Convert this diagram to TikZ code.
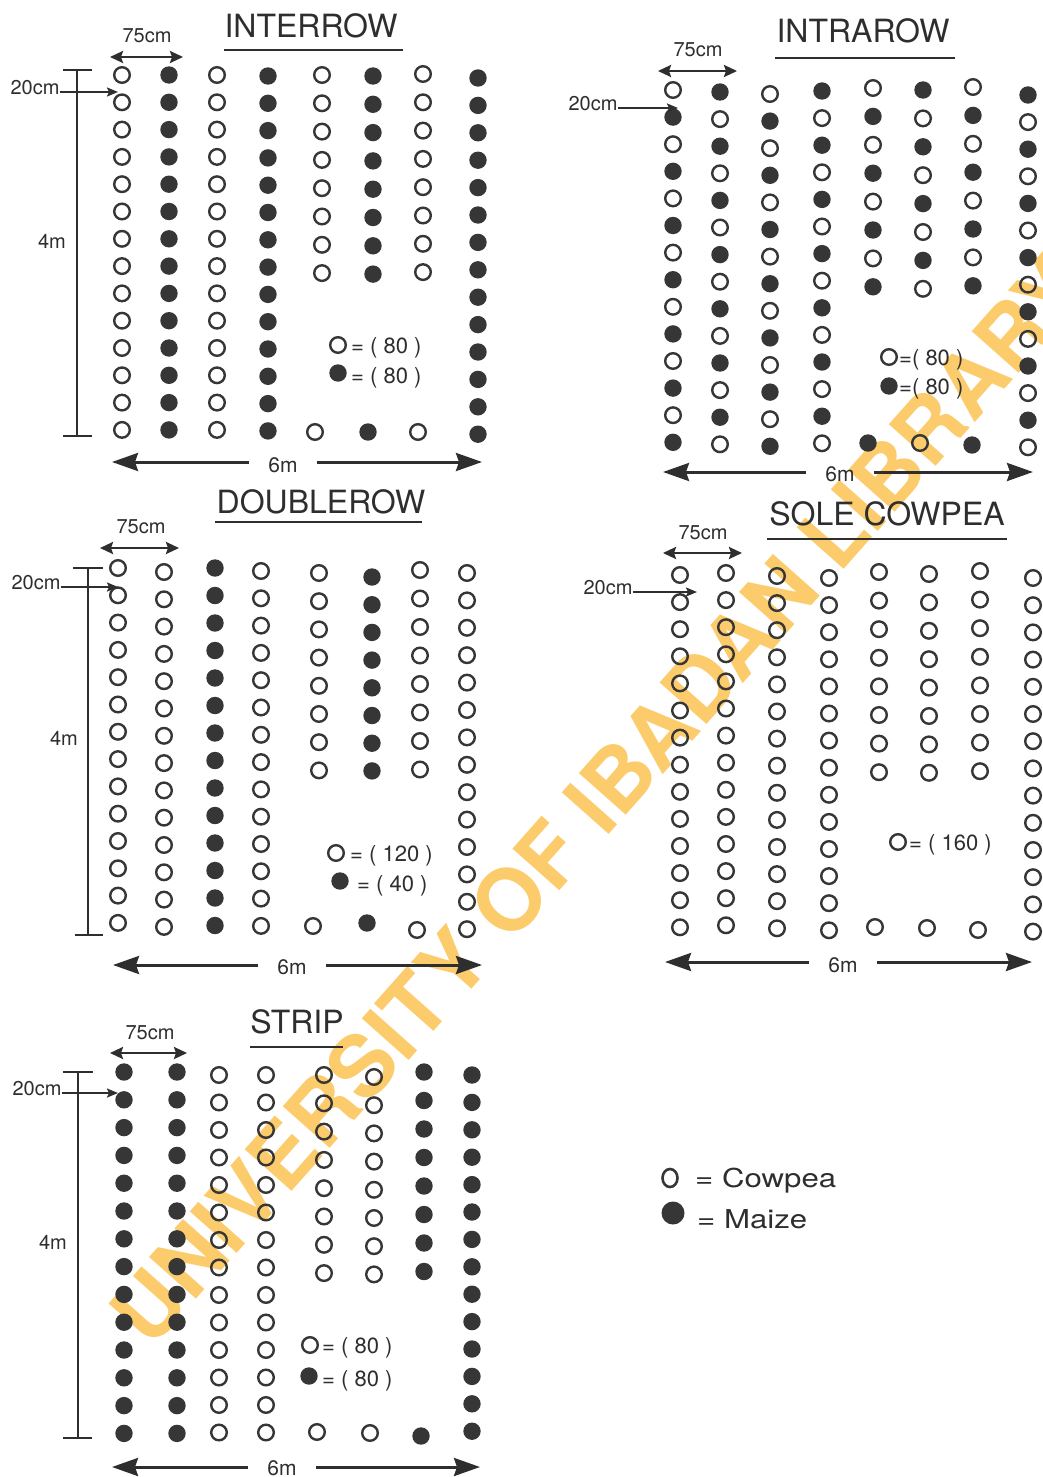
\documentclass[tikz,border=0pt]{standalone}
\usepackage{fontspec}
\setmainfont{TeX Gyre Heros}
\newfontfamily\legfont[FakeStretch=1.2]{TeX Gyre Heros}
\usetikzlibrary{arrows.meta,shapes.geometric}
\definecolor{ink}{HTML}{2E2E2E}
\definecolor{dotc}{HTML}{363636}
\definecolor{wm}{RGB}{252,204,108}
\tikzset{
 odot/.style={circle, draw=dotc, line width=2.4pt, inner sep=0pt, minimum size=15.6pt},
 fdot/.style={circle, fill=dotc, inner sep=0pt, minimum size=17.4pt},
 ttl/.style={font=\fontsize{32}{36}\selectfont, text=ink, inner sep=0pt},
 lab/.style={font=\fontsize{20}{24}\selectfont, text=ink, inner sep=0pt},
 sixlab/.style={font=\fontsize{21}{25}\selectfont, text=ink, inner ysep=0pt, inner xsep=19pt},
 legtxt/.style={font=\fontsize{22}{26}\selectfont, text=ink, inner sep=0pt, anchor=base west},
 uline/.style={draw=ink, line width=2.4pt},
 dimbar/.style={draw=ink, line width=2.6pt},
 bigarr/.style={draw=ink, line width=3pt, -{Stealth[length=26pt,width=18pt,inset=3pt]}},
 dimarr/.style={draw=ink, line width=2.4pt, {Stealth[length=13pt,width=12pt,inset=2pt]}-{Stealth[length=13pt,width=12pt,inset=2pt]}},
 ptarr/.style={draw=ink, line width=2pt, -{Stealth[length=11pt,width=9pt,inset=2pt]}},
}
% #1 panel, #2 column, #3 x, #4 first y, #5 step, #6 last index, #7 kind (0 open,1 filled,2 alt from open,3 alt from filled)
\newcommand\dotcol[7]{%
  \foreach \i in {0,...,#6}{%
    \pgfmathtruncatemacro\kd{(#7==2)*mod(\i,2)+(#7==3)*(1-mod(\i,2))+(#7<2)*#7}%
    \ifnum\kd=0
      \node[odot] (#1-#2-\i) at (#3,{#4+\i*#5}) {};
    \else
      \node[fdot] (#1-#2-\i) at (#3,{#4+\i*#5}) {};
    \fi
  }%
}
\begin{document}
\begin{tikzpicture}[x=1pt,y=-1pt]
\useasboundingbox[fill=white] (0,0) rectangle (1043,1477);

% watermark
\node[rotate=48.4, text=wm, font=\bfseries\fontsize{86}{90}\selectfont, inner sep=0pt] (wmark) at (598,800) {UNIVERSITY OF IBADAN LIBRARY};

% ================= INTERROW =================
\node[ttl] (A-title) at (311,26) {INTERROW};
\draw[uline] (224,50) -- (403,50);
\node[lab] (A-75) at (147,36) {75cm};
\coordinate (A-75L) at (110,57); \coordinate (A-75R) at (183,57);
\draw[dimarr] (A-75L) -- (A-75R);
\dotcol{A}{1}{122}{75}{27.3}{13}{0}
\dotcol{A}{2}{169}{75}{27.3}{13}{1}
\dotcol{A}{3}{217}{75}{27.3}{13}{0}
\dotcol{A}{4}{268}{76}{27.3}{13}{1}
\dotcol{A}{5}{322}{75}{28.3}{7}{0}
\dotcol{A}{6}{373}{76}{28.3}{7}{1}
\dotcol{A}{7}{423}{74}{28.3}{7}{0}
\dotcol{A}{8}{478}{78}{27.4}{13}{1}
\node[odot] (A-b1) at (315,432) {};
\node[fdot] (A-b2) at (368,432) {};
\node[odot] (A-b3) at (418,432) {};
\node[lab] (A-20) at (35,88) {20cm};
\coordinate (A-20t) at (118,92);
\draw[ptarr] (A-20.east |- A-20t) -- (A-20t);
\coordinate (A-4T) at (77,70); \coordinate (A-4B) at (77,436);
\draw[dimbar] (A-4T) -- (A-4B);
\draw[dimbar] ([xshift=-14pt]A-4T) -- ([xshift=15pt]A-4T);
\draw[dimbar] ([xshift=-14pt]A-4B) -- ([xshift=15pt]A-4B);
\node[lab] (A-4m) at (52,241) {4m};
\node[sixlab] (A-6m) at (283,465) {6m};
\coordinate (A-6L) at (112,462); \coordinate (A-6R) at (482,462);
\draw[bigarr] (A-6m.west |- A-6L) -- (A-6L);
\draw[bigarr] (A-6m.east |- A-6R) -- (A-6R);
\node[odot] (A-lo) at (338,345) {};
\node[legtxt] (A-lot) at (351,353) {= ( 80 )};
\node[fdot] (A-lf) at (338,373) {};
\node[legtxt] (A-lft) at (351,383) {= ( 80 )};

% ================= INTRAROW =================
\node[ttl] (B-title) at (863,31) {INTRAROW};
\draw[uline] (775,58) -- (955,58);
\node[lab] (B-75) at (698,50) {75cm};
\coordinate (B-75L) at (658,71); \coordinate (B-75R) at (737,71);
\draw[dimarr] (B-75L) -- (B-75R);
\dotcol{B}{1}{673}{90}{27.1}{13}{2}
\dotcol{B}{2}{720}{92}{27.1}{13}{3}
\dotcol{B}{3}{770}{94}{27.1}{13}{2}
\dotcol{B}{4}{822}{91}{27.1}{13}{3}
\dotcol{B}{5}{873}{88}{28.4}{7}{2}
\dotcol{B}{6}{923}{90}{28.4}{7}{3}
\dotcol{B}{7}{973}{87}{28.4}{7}{2}
\dotcol{B}{8}{1028}{95}{27.1}{13}{3}
\node[fdot] (B-b1) at (868,443) {};
\node[odot] (B-b2) at (920,443) {};
\node[fdot] (B-b3) at (972,445) {};
\node[lab] (B-20) at (593,104) {20cm};
\coordinate (B-20t) at (678,108);
\draw[ptarr] (B-20.east |- B-20t) -- (B-20t);
\node[sixlab] (B-6m) at (840,474) {6m};
\coordinate (B-6L) at (663,472); \coordinate (B-6R) at (1033,472);
\draw[bigarr] (B-6m.west |- B-6L) -- (B-6L);
\draw[bigarr] (B-6m.east |- B-6R) -- (B-6R);
\node[odot] (B-lo) at (889,357) {};
\node[legtxt] (B-lot) at (899,365) {=( 80 )};
\node[fdot] (B-lf) at (889,386) {};
\node[legtxt] (B-lft) at (899,394) {=( 80 )};

% ================= DOUBLEROW =================
\node[ttl] (C-title) at (321,502) {DOUBLEROW};
\draw[uline] (215,522) -- (422,522);
\node[lab] (C-75) at (141,527) {75cm};
\coordinate (C-75L) at (100,548); \coordinate (C-75R) at (179,548);
\draw[dimarr] (C-75L) -- (C-75R);
\dotcol{C}{1}{118}{568}{27.3}{13}{0}
\dotcol{C}{2}{164}{572}{27.3}{13}{0}
\dotcol{C}{3}{215}{568}{27.5}{13}{1}
\dotcol{C}{4}{261}{571}{27.3}{13}{0}
\dotcol{C}{5}{319}{573}{28.2}{7}{0}
\dotcol{C}{6}{372}{577}{27.7}{7}{1}
\dotcol{C}{7}{420}{570}{28.5}{7}{0}
\dotcol{C}{8}{467}{573}{27.4}{13}{0}
\node[odot] (C-b1) at (313,926) {};
\node[fdot] (C-b2) at (367,923) {};
\node[odot] (C-b3) at (417,930) {};
\node[lab] (C-20) at (36,583) {20cm};
\coordinate (C-20t) at (118,587);
\draw[ptarr] (C-20.east |- C-20t) -- (C-20t);
\coordinate (C-4T) at (88,568); \coordinate (C-4B) at (88,935);
\draw[dimbar] (C-4T) -- (C-4B);
\draw[dimbar] ([xshift=-15pt]C-4T) -- ([xshift=15pt]C-4T);
\draw[dimbar] ([xshift=-13pt]C-4B) -- ([xshift=15pt]C-4B);
\node[lab] (C-4m) at (64,738) {4m};
\node[sixlab] (C-6m) at (292,967) {6m};
\coordinate (C-6L) at (113,965); \coordinate (C-6R) at (482,965);
\draw[bigarr] (C-6m.west |- C-6L) -- (C-6L);
\draw[bigarr] (C-6m.east |- C-6R) -- (C-6R);
\node[odot] (C-lo) at (336,853) {};
\node[legtxt] (C-lot) at (350,861) {= ( 120 )};
\node[fdot] (C-lf) at (340,881) {};
\node[legtxt] (C-lft) at (357,891) {= ( 40 )};

% ================= SOLE COWPEA =================
\node[ttl] (D-title) at (887,514) {SOLE COWPEA};
\draw[uline] (767,539) -- (1007,539);
\node[lab] (D-75) at (703,533) {75cm};
\coordinate (D-75L) at (663,553); \coordinate (D-75R) at (742,553);
\draw[dimarr] (D-75L) -- (D-75R);
\dotcol{D}{1}{680}{575}{27.1}{13}{0}
\dotcol{D}{2}{726}{573}{27.1}{13}{0}
\dotcol{D}{3}{777}{576}{27.1}{13}{0}
\dotcol{D}{4}{829}{578}{27.1}{13}{0}
\dotcol{D}{5}{879}{572}{28.6}{7}{0}
\dotcol{D}{6}{929}{574}{28.4}{7}{0}
\dotcol{D}{7}{980}{571}{28.6}{7}{0}
\dotcol{D}{8}{1033}{578}{27.2}{13}{0}
\node[odot] (D-b1) at (875,927) {};
\node[odot] (D-b2) at (927,928) {};
\node[odot] (D-b3) at (978,930) {};
\node[lab] (D-20) at (608,588) {20cm};
\coordinate (D-20t) at (697,592);
\draw[ptarr] (D-20.east |- D-20t) -- (D-20t);
\node[sixlab] (D-6m) at (843,965) {6m};
\coordinate (D-6L) at (665,962); \coordinate (D-6R) at (1032,962);
\draw[bigarr] (D-6m.west |- D-6L) -- (D-6L);
\draw[bigarr] (D-6m.east |- D-6R) -- (D-6R);
\node[odot] (D-lo) at (898,842) {};
\node[legtxt] (D-lot) at (909,850) {= ( 160 )};

% ================= STRIP =================
\node[ttl] (E-title) at (297,1022) {STRIP};
\draw[uline] (250,1047) -- (343,1047);
\node[lab] (E-75) at (150,1033) {75cm};
\coordinate (E-75L) at (110,1053); \coordinate (E-75R) at (187,1053);
\draw[dimarr] (E-75L) -- (E-75R);
\dotcol{E}{1}{124}{1072}{27.8}{13}{1}
\dotcol{E}{2}{177}{1072}{27.8}{13}{1}
\dotcol{E}{3}{219}{1075}{27.5}{13}{0}
\dotcol{E}{4}{266}{1075}{27.5}{13}{0}
\dotcol{E}{5}{324}{1075}{28.3}{7}{0}
\dotcol{E}{6}{374}{1077}{28.2}{7}{0}
\dotcol{E}{7}{424}{1072}{28.5}{7}{1}
\dotcol{E}{8}{472}{1075}{27.4}{13}{1}
\node[odot] (E-b1) at (317,1432) {};
\node[odot] (E-b2) at (370,1433) {};
\node[fdot] (E-b3) at (421,1436) {};
\node[lab] (E-20) at (37,1089) {20cm};
\coordinate (E-20t) at (118,1093);
\draw[ptarr] (E-20.east |- E-20t) -- (E-20t);
\coordinate (E-4T) at (78,1072); \coordinate (E-4B) at (78,1438);
\draw[dimbar] (E-4T) -- (E-4B);
\draw[dimbar] ([xshift=-15pt]E-4T) -- ([xshift=15pt]E-4T);
\draw[dimbar] ([xshift=-15pt]E-4B) -- ([xshift=14pt]E-4B);
\node[lab] (E-4m) at (53,1242) {4m};
\node[sixlab] (E-6m) at (282,1468) {6m};
\coordinate (E-6L) at (112,1467); \coordinate (E-6R) at (480,1467);
\draw[bigarr] (E-6m.west |- E-6L) -- (E-6L);
\draw[bigarr] (E-6m.east |- E-6R) -- (E-6R);
\node[odot] (E-lo) at (310,1345) {};
\node[legtxt] (E-lot) at (322,1353) {= ( 80 )};
\node[fdot] (E-lf) at (309,1376) {};
\node[legtxt] (E-lft) at (322,1386) {= ( 80 )};

% ================= KEY =================
\node[ellipse, draw=dotc, line width=2.6pt, inner sep=0pt, minimum width=15pt, minimum height=18pt] (K-o) at (670,1178) {};
\node[anchor=base west, inner sep=0pt, text=ink, font=\legfont\fontsize{26}{30}\selectfont] (K-ot) at (695,1187) {= Cowpea};
\node[circle, fill=dotc, inner sep=0pt, minimum size=23pt] (K-f) at (673,1213) {};
\node[anchor=base west, inner sep=0pt, text=ink, font=\legfont\fontsize{26}{30}\selectfont] (K-ft) at (697,1228) {= Maize};
\end{tikzpicture}
\end{document}
